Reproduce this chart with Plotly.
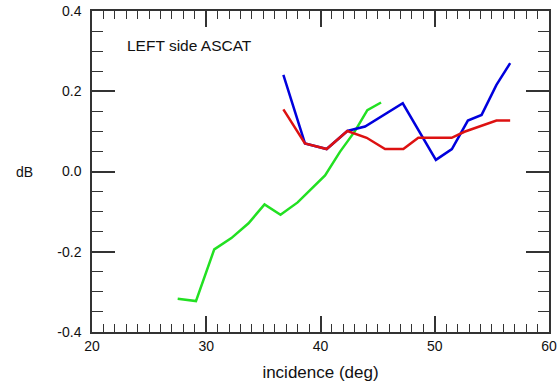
import plotly.graph_objects as go

green_x = [27.5, 29.1, 30.7, 32.2, 33.7, 35.1, 36.5, 38.0, 40.4, 41.7, 43.0, 44.1, 45.3]
green_y = [-0.317, -0.323, -0.194, -0.166, -0.129, -0.082, -0.108, -0.077, -0.010, 0.049, 0.100, 0.153, 0.172]

blue_x = [36.75, 38.64, 40.54, 42.35, 43.9, 47.2, 50.1, 51.5, 52.9, 54.1, 55.4, 56.6]
blue_y = [0.241, 0.070, 0.056, 0.101, 0.112, 0.170, 0.029, 0.056, 0.127, 0.141, 0.216, 0.270]

red_x = [36.75, 38.64, 40.54, 42.35, 44.04, 45.65, 47.25, 48.56, 51.48, 52.6, 55.4, 56.6]
red_y = [0.155, 0.070, 0.056, 0.101, 0.084, 0.056, 0.056, 0.084, 0.084, 0.099, 0.127, 0.127]

y_tick_vals = [-0.4, -0.2, 0.0, 0.2, 0.4]
y_tick_text = ["-0.4", "-0.2", "0.0", "0.2", "0.4"]

title_text = "LEFT side ASCAT"
FONT = "Liberation Sans, Arial, Helvetica, sans-serif"

fig = go.Figure()
fig.add_trace(go.Scatter(x=green_x, y=green_y, mode="lines",
                         line=dict(color="#22e022", width=2.5)))
fig.add_trace(go.Scatter(x=blue_x, y=blue_y, mode="lines",
                         line=dict(color="#0000dd", width=2.5)))
fig.add_trace(go.Scatter(x=red_x, y=red_y, mode="lines",
                         line=dict(color="#dd1111", width=2.5)))

axcol = "#333333"
fig.update_layout(
    width=559, height=390,
    margin=dict(l=92, r=10, t=11, b=58),
    paper_bgcolor="white", plot_bgcolor="white",
    showlegend=False,
    font=dict(family=FONT, size=14, color="#111111"),
    xaxis=dict(range=[20, 60], dtick=10, tick0=20, showgrid=False, zeroline=False,
               showline=True, linecolor=axcol, linewidth=1.5, mirror="allticks",
               ticks="inside", ticklen=16, tickwidth=1.5, tickcolor=axcol, automargin=False,
               minor=dict(dtick=1, ticks="inside", ticklen=8, tickwidth=1.2, tickcolor=axcol, showgrid=False),
               title=dict(text="incidence (deg)", standoff=14),
               tickfont=dict(size=14)),
    yaxis=dict(range=[-0.4, 0.4], tickmode="array", tickvals=y_tick_vals, ticktext=y_tick_text,
               showgrid=False, zeroline=False, automargin=False,
               showline=True, linecolor=axcol, linewidth=1.5, mirror="allticks",
               ticks="inside", ticklen=23, tickwidth=1.5, tickcolor=axcol,
               ticklabelstandoff=6,
               minor=dict(dtick=0.05, tick0=0, ticks="inside", ticklen=11, tickwidth=1.2, tickcolor=axcol, showgrid=False),
               tickfont=dict(size=14)),
    annotations=[
        dict(text=title_text, x=22.9, y=0.313, xref="x", yref="y", xanchor="left", yanchor="middle",
             showarrow=False, font=dict(size=15.5)),
        dict(text="dB", x=-0.148, y=0.0, xref="x domain", yref="y", xanchor="center", yanchor="middle",
             showarrow=False, font=dict(size=14)),
    ],
)

fig.write_html("out.html")
